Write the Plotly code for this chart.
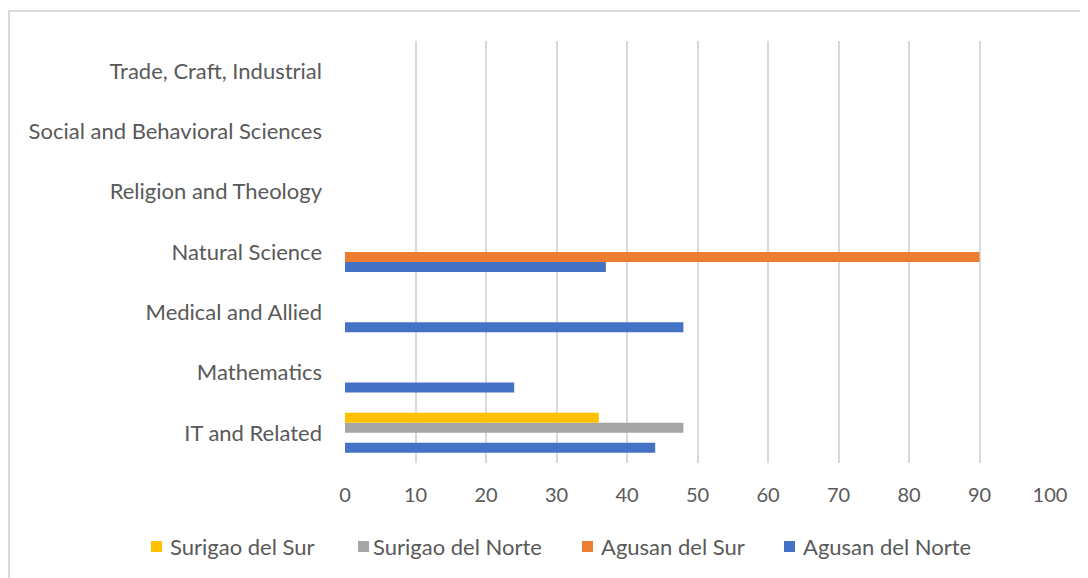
import plotly.graph_objects as go

categories = ["IT and Related", "Mathematics", "Medical and Allied", "Natural Science",
              "Religion and Theology", "Social and Behavioral Sciences", "Trade, Craft, Industrial"]
agusan_del_norte = [44, 24, 48, 37, None, None, None]
agusan_del_sur = [None, None, None, 90, None, None, None]
surigao_del_norte = [48, None, None, None, None, None, None]
surigao_del_sur = [36, None, None, None, None, None, None]
x_ticks = [0, 10, 20, 30, 40, 50, 60, 70, 80, 90, 100]

series = [
    ("Agusan del Norte", agusan_del_norte, "#4472C4"),
    ("Agusan del Sur", agusan_del_sur, "#ED7D31"),
    ("Surigao del Norte", surigao_del_norte, "#A5A5A5"),
    ("Surigao del Sur", surigao_del_sur, "#FFC000"),
]

FONT = "Lato"
TXT = "#595959"

W, H = 1080, 570
L, R, T, B = 337, 38, 33, 115
PW, PH = W - L - R, H - T - B
OFF = 8  # page offset


def px(xs):
    return (xs - OFF - L) / PW


def py(ys):
    return 1 - (ys - OFF - T) / PH


fig = go.Figure()
for name, vals, col in series:
    fig.add_trace(go.Bar(y=categories, x=vals, name=name, orientation="h",
                         marker=dict(color=col, line=dict(width=0)), showlegend=False))

shapes = [
    dict(type="line", xref="paper", yref="paper", x0=px(8), x1=px(1100), y0=py(11), y1=py(11),
         line=dict(color="#D9D9D9", width=2)),
    dict(type="line", xref="paper", yref="paper", x0=px(9), x1=px(9), y0=py(11), y1=py(600),
         line=dict(color="#D9D9D9", width=2)),
]
annotations = []
# custom legend (order as in reference)
legend_items = [(series[3], 151, 168), (series[2], 358, 371), (series[1], 582, 599), (series[0], 784, 801)]
ly = 546
for (name, _, col), sx, tx in legend_items:
    shapes.append(dict(type="rect", xref="paper", yref="paper",
                       x0=px(sx), x1=px(sx + 11), y0=py(ly + 6), y1=py(ly - 5),
                       fillcolor=col, line=dict(width=0)))
    annotations.append(dict(text=name, xref="paper", yref="paper", x=px(tx), y=py(ly),
                            xanchor="left", yanchor="middle", showarrow=False,
                            font=dict(size=22, color=TXT, family=FONT)))

fig.update_layout(
    width=W, height=H,
    margin=dict(l=L, r=R, t=T, b=B, autoexpand=False),
    paper_bgcolor="white", plot_bgcolor="white",
    barmode="group", bargap=0.336, bargroupgap=0,
    font=dict(family=FONT, color=TXT, size=19),
    showlegend=False,
    xaxis=dict(range=[0, 100], tickvals=x_ticks, showgrid=True, gridcolor="#D9D9D9",
               gridwidth=2, zeroline=False, showline=False, ticks="",
               tickfont=dict(size=20, color=TXT, family=FONT), ticklabelstandoff=18),
    yaxis=dict(categoryorder="array", categoryarray=categories, showgrid=False,
               zeroline=False, showline=False, ticks="",
               tickfont=dict(size=22, color=TXT, family=FONT), ticklabelstandoff=22),
    shapes=shapes,
    annotations=annotations,
)

fig.write_html("out.html")
